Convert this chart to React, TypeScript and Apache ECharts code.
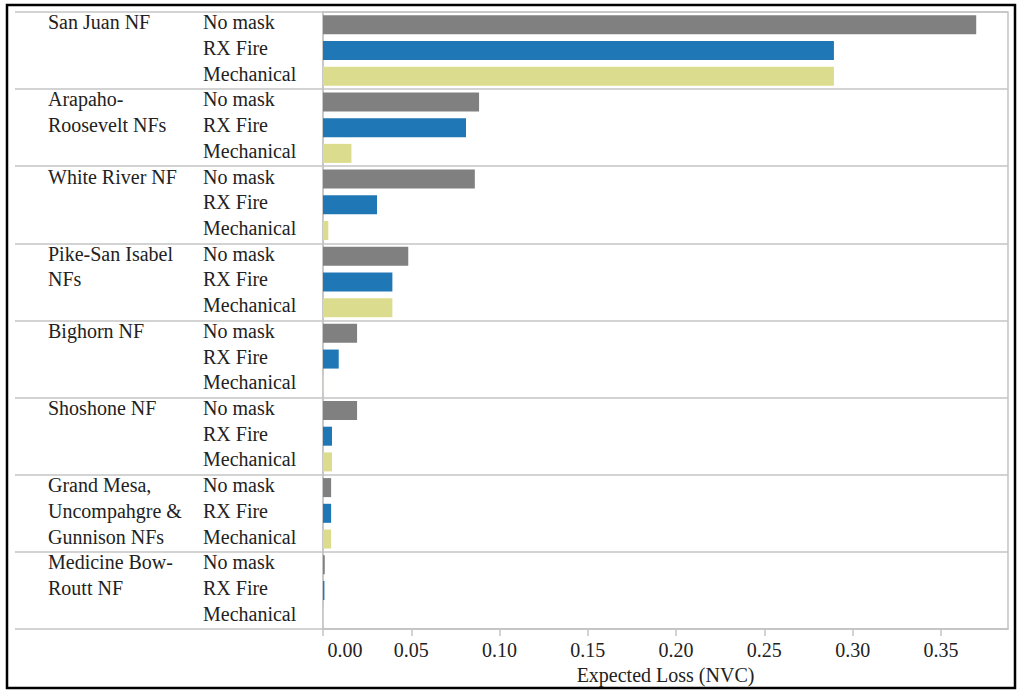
import React, { useEffect, useRef } from "react";
import * as echarts from "echarts";

const forestLines: string[][] = [
  ["San Juan NF"],
  ["Arapaho-", "Roosevelt NFs"],
  ["White River NF"],
  ["Pike-San Isabel", "NFs"],
  ["Bighorn NF"],
  ["Shoshone NF"],
  ["Grand Mesa,", "Uncompahgre &", "Gunnison NFs"],
  ["Medicine Bow-", "Routt NF"],
];
const treatments = ["No mask", "RX Fire", "Mechanical"];
const noMask = [0.37, 0.0884, 0.086, 0.0483, 0.0193, 0.0193, 0.0046, 0.001];
const rxFire = [0.2894, 0.081, 0.0306, 0.0393, 0.0089, 0.0051, 0.0046, 0.0008];
const mechanical = [0.2894, 0.0161, 0.003, 0.0393, 0.0006, 0.0051, 0.0046, 0.0004];
const xTicks = [0, 0.05, 0.1, 0.15, 0.2, 0.25, 0.3, 0.35];
const colors = ["#808080", "#2077b5", "#dcdc8e"];

const FONT = "Liberation Serif";
const LINE = "#c4c4c4";

export default function App() {
  const ref = useRef<HTMLDivElement>(null);
  useEffect(() => {
    document.body.style.margin = "0";
    const chart = echarts.init(ref.current!, undefined, { renderer: "svg" });
    const seriesByTreatment = [noMask, rxFire, mechanical];
    const categories: string[] = [];
    const data: any[] = [];
    forestLines.forEach((lines, fi) => {
      treatments.forEach((t, ti) => {
        categories.push(`${fi}|${ti}`);
        data.push({ value: seriesByTreatment[ti][fi], itemStyle: { color: colors[ti] } });
      });
    });
    chart.setOption({
      animation: false,
      grid: {
        left: 323,
        top: 12,
        right: 16,
        bottom: 67,
        show: true,
        borderColor: LINE,
        borderWidth: 1.5,
      },
      xAxis: {
        type: "value",
        min: 0,
        max: 0.388,
        name: "Expected Loss (NVC)",
        nameLocation: "middle",
        nameGap: 36,
        nameTextStyle: { fontFamily: FONT, fontSize: 20, color: "#222" },
        axisLine: { show: true, lineStyle: { color: LINE, width: 1.5 } },
        axisTick: { show: true, customValues: xTicks, length: 7, lineStyle: { color: LINE, width: 1.5 } },
        axisLabel: {
          customValues: xTicks,
          margin: 11,
          fontFamily: FONT,
          fontSize: 20,
          color: "#222",
          formatter: (v: number) => (v === 0 ? "{z|0.00}" : v.toFixed(2)),
          rich: { z: { fontFamily: FONT, fontSize: 20, color: "#222", padding: [0, 0, 0, 44] } },
        },
        splitLine: { show: false },
      },
      yAxis: {
        type: "category",
        inverse: true,
        data: categories,
        axisLine: { show: true, lineStyle: { color: LINE, width: 1.5 } },
        axisTick: {
          show: true,
          alignWithLabel: false,
          interval: (i: number) => i % 3 === 0,
          length: 308,
          lineStyle: { color: LINE, width: 1.5 },
        },
        splitLine: {
          show: true,
          interval: (i: number) => i % 3 === 0,
          lineStyle: { color: LINE, width: 1.5 },
        },
        axisLabel: {
          interval: 0,
          align: "left",
          margin: 275,
          padding: [0, 0, 5, 0],
          formatter: (v: string) => {
            const [fi, ti] = v.split("|").map(Number);
            const g = forestLines[fi][ti] || "\u00a0";
            return `{g|${g}}{t|${treatments[ti]}}`;
          },
          rich: {
            g: { width: 155, fontFamily: FONT, fontSize: 20, color: "#222" },
            t: { fontFamily: FONT, fontSize: 20, color: "#222" },
          },
        },
      },
      series: [
        {
          type: "bar",
          data,
          barCategoryGap: "26%",
        },
      ],
      graphic: [
        {
          type: "rect",
          shape: { x: 7, y: 5, width: 1008, height: 683 },
          style: { fill: "none", stroke: "#000", lineWidth: 2.5 },
          silent: true,
        },
      ],
    });
    return () => chart.dispose();
  }, []);
  return <div ref={ref} style={{ width: 1024, height: 696 }} />;
}
